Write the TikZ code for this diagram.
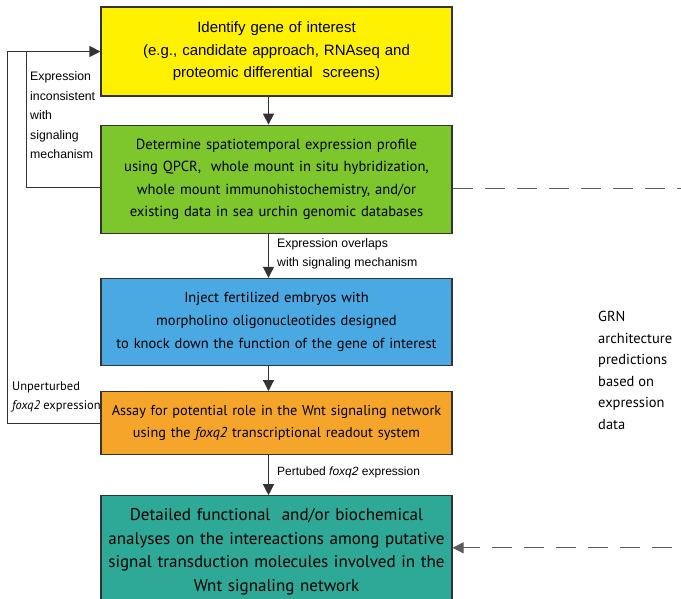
\documentclass[tikz,border=0pt]{standalone}
\usepackage{fontspec}
\setmainfont{Liberation Sans}
\newfontfamily\myriad{PT Sans}
\usetikzlibrary{arrows.meta,positioning}
\definecolor{gyellow}{HTML}{FFF100}
\definecolor{ggreen}{HTML}{7DC62B}
\definecolor{gblue}{HTML}{4AA8E2}
\definecolor{gorange}{HTML}{F6A52B}
\definecolor{gteal}{HTML}{2EA998}
\definecolor{gline}{HTML}{333333}

\begin{document}
\begin{tikzpicture}[x=1pt,y=1pt,
  box/.style={rectangle,draw=gline,line width=1.2pt,minimum width=351pt,text width=345pt,inner sep=3pt,align=center},
  lbl/.style={align=left,inner sep=0pt,font=\fontsize{12.3}{19.5}\selectfont},
  mlbl/.style={align=left,inner sep=0pt,font=\myriad\fontsize{14.5}{21.5}\selectfont},
  arr/.style={-{Triangle[length=11pt,width=11pt]},draw=gline,line width=1.2pt},
  link/.style={draw=gline,line width=1.2pt},
  dashline/.style={draw=gline!80,line width=1.2pt,dash pattern=on 20pt off 12pt}
]
\useasboundingbox (0,0) rectangle (681,-598);
\node[box,fill=gyellow,minimum height=89pt,font=\fontsize{15}{22.5}\selectfont] (ident) at (276.5,-51.5)
  {Identify gene of interest\\(e.g., candidate approach, RNAseq and\\proteomic differential\ \ screens)};
\node[box,fill=ggreen,minimum height=108pt,below=28pt of ident,font=\myriad\fontsize{14.6}{22.5}\selectfont] (profile)
  {Determine spatiotemporal expression profile\\using QPCR,\ \ whole mount in situ hybridization,\\whole mount immunohistochemistry, and/or\\existing data in sea urchin genomic databases};
\node[box,fill=gblue,minimum height=87pt,below=44pt of profile,font=\myriad\fontsize{14.5}{23}\selectfont] (inject)
  {Inject fertilized embryos with\\morpholino oligonucleotides designed\\to knock down the function of the gene of interest};
\node[box,fill=gorange,minimum height=63pt,below=25pt of inject,font=\myriad\fontsize{14.3}{22}\selectfont] (assay)
  {Assay for potential role in the Wnt signaling network\\using the \textit{foxq2} transcriptional readout system};
\node[box,fill=gteal,minimum height=112pt,below=40pt of assay,font=\myriad\fontsize{17}{23.5}\selectfont] (detail)
  {Detailed functional\ \ and/or biochemical\\analyses on the intereactions among putative\\signal transduction molecules involved in the\\Wnt signaling network};

\node[lbl,anchor=west] (incons) at (30,-115.5) {Expression\\inconsistent\\with\\signaling\\mechanism};
\node[lbl,anchor=west] (overlap) at (277,-254) {Expression overlaps\\with signaling mechanism};
\node[mlbl,anchor=west] (grn) at (598,-370.5) {GRN\\architecture\\predictions\\based on\\expression\\data};
\node[mlbl,anchor=west,font=\myriad\fontsize{12.5}{19}\selectfont] (unpert) at (12,-396.5) {Unperturbed\\\textit{foxq2} expression};
\node[lbl,anchor=west,font=\fontsize{12}{19}\selectfont] (pert) at (277,-472) {Pertubed \textit{foxq2} expression};

\draw[arr] ([xshift=-8pt]ident.south) -- ([xshift=-8pt]profile.north);
\draw[arr] ([xshift=-8pt]profile.south) -- ([xshift=-8pt]inject.north);
\draw[arr] ([xshift=-8pt]inject.south) -- ([xshift=-8pt]assay.north);
\draw[arr] ([xshift=-8pt]assay.south) -- ([xshift=-8pt]detail.north);
\draw[arr] (assay.west) -| ([xshift=-93pt]ident.west) -- (ident.west);
\draw[link] ([yshift=-8pt]profile.west) -| ([xshift=-74pt]ident.west);
\draw[arr,dashline] ([yshift=-9pt]profile.east) -- ++(250,0) |- ([yshift=4pt]detail.east);
\end{tikzpicture}
\end{document}
